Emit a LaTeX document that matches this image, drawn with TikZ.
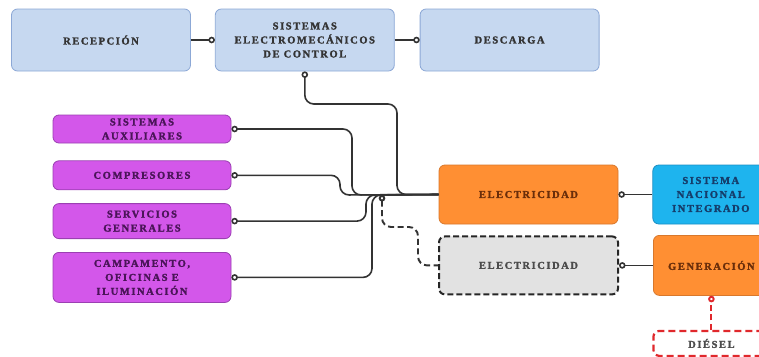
\documentclass[tikz,border=0pt]{standalone}
\usepackage{fontspec}
\usepackage{tikz}
\usetikzlibrary{positioning, arrows.meta}
\newfontfamily\boxfont[LetterSpace=15, FakeBold=1.8]{Liberation Serif}
\definecolor{bluefill}{HTML}{C6D8F0}
\definecolor{blueline}{HTML}{8CA8D6}
\definecolor{purpfill}{HTML}{D357EA}
\definecolor{purpline}{HTML}{9B3FB2}
\definecolor{purptext}{HTML}{4A1458}
\definecolor{orfill}{HTML}{FF8F33}
\definecolor{orline}{HTML}{D8782C}
\definecolor{ortext}{HTML}{6A2E0A}
\definecolor{cyfill}{HTML}{1EB4EE}
\definecolor{cyline}{HTML}{1B8FC4}
\definecolor{cytext}{HTML}{153D6B}
\definecolor{greyfill}{HTML}{E2E2E2}
\definecolor{dred}{HTML}{E0282C}

\begin{document}
\begin{tikzpicture}[x=1pt, y=-1pt,
	box/.style={rectangle, rounded corners=6pt, inner sep=0pt, align=center,
		font=\boxfont\bfseries\fontsize{10.5}{14}\selectfont},
	topbox/.style={box, fill=bluefill, draw=blueline, line width=0.8pt, text=black!80,
		minimum width=179pt, minimum height=62pt},
	loadbox/.style={box, fill=purpfill, draw=purpline, line width=0.8pt, text=purptext,
		minimum width=178pt},
	orbox/.style={box, fill=orfill, draw=orline, line width=0.8pt, text=ortext},
	netbox/.style={box, fill=cyfill, draw=cyline, line width=0.8pt, text=cytext},
	ring/.tip={Circle[open, length=6.5pt, width=6.5pt]},
	conn/.style={draw=black!80, line width=1.6pt, rounded corners=9pt}]
	\clip (0,0) rectangle (759,356);
	\fill[white] (0,0) rectangle (759,356);
	\node[topbox] (recep) at (101,40) {RECEPCIÓN};
	\node[topbox, right=24pt of recep] (sec) {SISTEMAS\\ELECTROMECÁNICOS\\DE CONTROL};
	\node[topbox, right=25pt of sec] (desc) {DESCARGA};
	\node[loadbox, minimum height=28pt] (aux) at (142,129) {SISTEMAS\\AUXILIARES};
	\node[loadbox, minimum height=29pt, below=17pt of aux] (comp) {COMPRESORES};
	\node[loadbox, minimum height=35pt, below=13pt of comp] (serv) {SERVICIOS\\GENERALES};
	\node[loadbox, minimum height=50pt, below=13pt of serv] (camp) {CAMPAMENTO,\\OFICINAS E\\ILUMINACIÓN};
	\node[orbox, minimum width=179pt, minimum height=59pt] (elec) at (528.5,194.5) {ELECTRICIDAD};
	\node[box, fill=greyfill, draw=black!85, line width=2pt, dash pattern=on 6pt off 3pt,
		text=black!70, minimum width=179pt, minimum height=58pt, below=11pt of elec] (elec2) {ELECTRICIDAD};
	\node[netbox, minimum width=116pt, minimum height=59pt, right=34pt of elec] (sni) {SISTEMA\\NACIONAL\\INTEGRADO};
	\node[orbox, minimum width=116pt, minimum height=60pt, right=34pt of elec2] (gen) {GENERACIÓN};
	\node[box, draw=dred, line width=2.2pt, dash pattern=on 7pt off 4pt, text=black!70,
		minimum width=116pt, minimum height=25pt, below=34pt of gen] (dsl) {DIÉSEL};
	\coordinate (hub) at (382,195);
	\draw[conn, -ring] (recep) -- (sec);
	\draw[conn, -ring] (sec) -- (desc);
	\draw[conn, ring-] (sec.south) |- (397,104) |- (elec.west);
	\draw[conn, ring-] (aux.east) -| (352,195) -- (elec.west);
	\draw[conn, ring-] (comp.east) -| (340,195) -- (elec.west);
	\draw[conn, ring-] (serv.east) -| (366,195) -- (elec.west);
	\draw[conn, ring-] (camp.east) -| (372,195) -- (elec.west);
	\draw[conn, ring-, line width=1.9pt, dash pattern=on 6pt off 3.5pt] (hub) |- (418,227) |- (elec2.west);
	\draw[conn, -ring] (sni) -- (elec);
	\draw[conn, -ring] (gen) -- (elec2);
	\draw[conn, draw=dred, line width=1.9pt, dash pattern=on 6pt off 3.5pt, -ring] (dsl) -- (gen);
\end{tikzpicture}
\end{document}
